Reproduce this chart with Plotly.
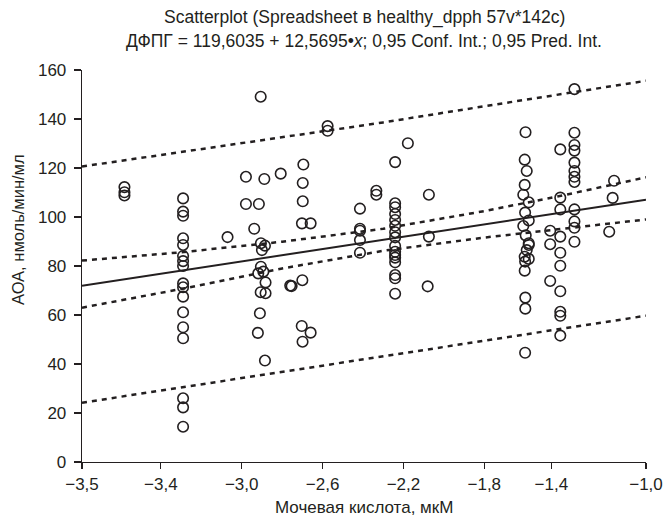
import plotly.graph_objects as go

# ---- data ----
pts_x = (
    [-3.58] * 3
    + [-3.29] * 17
    + [-3.07]
    + [-2.906, -2.979, -2.888, -2.807, -2.979, -2.915, -2.938, -2.905, -2.885, -2.90,
       -2.905, -2.918, -2.893, -2.882, -2.906, -2.882, -2.91, -2.92, -2.885]
    + [-2.76]
    + [-2.695, -2.698, -2.698, -2.702, -2.659, -2.70, -2.753, -2.703, -2.659, -2.699]
    + [-2.575, -2.575]
    + [-2.415] * 5
    + [-2.334, -2.334]
    + [-2.241] * 16
    + [-2.178]
    + [-2.074, -2.074, -2.08]
    + [-1.596, -1.60, -1.59, -1.60, -1.607, -1.58, -1.598, -1.58, -1.607, -1.595,
       -1.58, -1.58, -1.59, -1.60, -1.58, -1.598, -1.60, -1.597, -1.597, -1.598]
    + [-1.474, -1.474, -1.474]
    + [-1.424] * 10
    + [-1.354] * 12
    + [-1.158, -1.165, -1.182]
)
pts_y = (
    [112.2, 110.1, 108.8]
    + [107.6, 102.2, 100.5, 91.3, 88.6, 84.1, 82.0, 80.0, 72.9, 71.3, 67.5, 61.1, 55.0, 50.5, 26.0, 22.3, 14.4]
    + [91.8]
    + [149.1, 116.4, 115.5, 117.7, 105.3, 105.3, 95.2, 89.3, 88.3, 86.5,
       79.7, 77.0, 77.7, 73.3, 69.3, 68.9, 60.7, 52.7, 41.4]
    + [72.0]
    + [121.4, 113.9, 106.4, 97.4, 97.4, 74.2, 71.8, 55.5, 52.8, 49.1]
    + [137.1, 135.2]
    + [103.4, 95.2, 94.4, 90.6, 85.4]
    + [110.7, 109.1]
    + [122.4, 105.6, 104.0, 101.2, 98.8, 96.4, 93.8, 91.7, 88.2, 85.8, 84.5, 83.4, 81.5, 76.3, 75.0, 68.7]
    + [130.1]
    + [109.1, 92.0, 71.7]
    + [134.6, 123.4, 118.8, 113.1, 109.1, 106.0, 101.8, 98.6, 96.3, 92.5,
       89.3, 88.6, 86.5, 83.8, 82.9, 81.8, 78.1, 67.1, 62.6, 44.6]
    + [94.4, 88.9, 73.9]
    + [127.6, 107.9, 103.1, 92.0, 85.4, 80.1, 69.7, 61.3, 59.7, 51.6]
    + [152.2, 134.4, 129.4, 127.1, 122.2, 118.8, 116.4, 114.3, 103.1, 98.2, 95.6, 89.9]
    + [114.8, 107.8, 94.0]
)

# regression from title
intercept = 119.6035
slope = 12.5695
x_range = [-3.79, -1.0]

# interval bands read at these x positions
band_x = [-3.79, -3.3, -2.8, -2.3, -1.8, -1.4, -1.0]
conf_upper = [82.2, 85.6, 89.9, 95.2, 102.4, 109.0, 116.2]
conf_lower = [63.0, 70.6, 79.0, 86.2, 91.6, 95.2, 99.0]
pred_upper = [120.6, 126.5, 132.4, 138.6, 145.2, 150.3, 155.6]
pred_lower = [24.2, 30.5, 36.9, 43.2, 49.5, 54.6, 59.7]

x_tick_vals = [-3.79, -3.4, -3.0, -2.6, -2.2, -1.8, -1.468, -1.0]
x_tick_text = ["\u22123,5", "\u22123,4", "\u22123,0", "\u22122,6", "\u22122,2", "\u22121,8", "\u22121,4", "\u22121,0"]
y_tick_vals = [0, 20, 40, 60, 80, 100, 120, 140, 160]

title_1 = "Scatterplot (Spreadsheet в healthy_dpph 57v*142c)"
title_2 = "ДФПГ = 119,6035 + 12,5695•<i>x</i>; 0,95 Conf. Int.; 0,95 Pred. Int."
x_title = "Мочевая кислота, мкМ"
y_title = "АОА, нмоль/мин/мл"

FONT = "Liberation Sans, Arial, sans-serif"
INK = "#231f20"

fig = go.Figure()

dash_style = dict(color=INK, width=2.5, dash="5px,5px")
for band in (pred_upper, pred_lower, conf_upper, conf_lower):
    fig.add_trace(go.Scatter(x=band_x, y=band, mode="lines", line=dash_style,
                             hoverinfo="skip", showlegend=False))

fig.add_trace(go.Scatter(
    x=x_range, y=[intercept + slope * v for v in x_range],
    mode="lines", line=dict(color=INK, width=2), showlegend=False))

fig.add_trace(go.Scatter(
    x=pts_x, y=pts_y, mode="markers",
    marker=dict(symbol="circle", size=10.5, color="rgba(255,255,255,0)",
                line=dict(color=INK, width=1.6)),
    showlegend=False))

# plot area: x 82..646 px, y 70..462 px
fig.update_layout(
    width=669, height=518,
    margin=dict(l=82, r=23, t=70, b=56, autoexpand=False),
    paper_bgcolor="white", plot_bgcolor="white",
    font=dict(family=FONT, size=17, color=INK),
    annotations=[
        dict(text=title_1, x=0.5, y=(462 - 17) / 392, xref="paper", yref="paper",
             xanchor="center", yanchor="middle", showarrow=False,
             font=dict(family=FONT, size=17.5, color=INK)),
        dict(text=title_2, x=0.5, y=(462 - 41) / 392, xref="paper", yref="paper",
             xanchor="center", yanchor="middle", showarrow=False,
             font=dict(family=FONT, size=17.5, color=INK)),
        dict(text=x_title, x=0.5, y=(462 - 507) / 392, xref="paper", yref="paper",
             xanchor="center", yanchor="middle", showarrow=False,
             font=dict(family=FONT, size=17, color=INK)),
        dict(text=y_title, x=(18 - 82) / 564, y=(462 - 230) / 392, xref="paper", yref="paper",
             xanchor="center", yanchor="middle", showarrow=False, textangle=-90,
             font=dict(family=FONT, size=16.5, color=INK)),
    ],
)
fig.update_xaxes(
    range=x_range, tickvals=x_tick_vals, ticktext=x_tick_text, automargin=False,
    showgrid=False, zeroline=False, showline=True, linecolor=INK, linewidth=1.3,
    ticks="outside", ticklen=6, tickwidth=1.3, tickcolor=INK,
    tickfont=dict(family=FONT, size=17, color=INK),
)
fig.update_yaxes(
    range=[0, 160], tickvals=y_tick_vals, automargin=False,
    showgrid=False, zeroline=False, showline=True, linecolor=INK, linewidth=1.3,
    ticks="outside", ticklen=7, tickwidth=1.3, tickcolor=INK, ticklabelstandoff=4,
    tickfont=dict(family=FONT, size=17, color=INK),
)

fig.write_html(
    "out.html",
    config={"displayModeBar": False, "staticPlot": True},
    post_script="document.body.style.margin='0';document.body.style.overflow='hidden';",
)
